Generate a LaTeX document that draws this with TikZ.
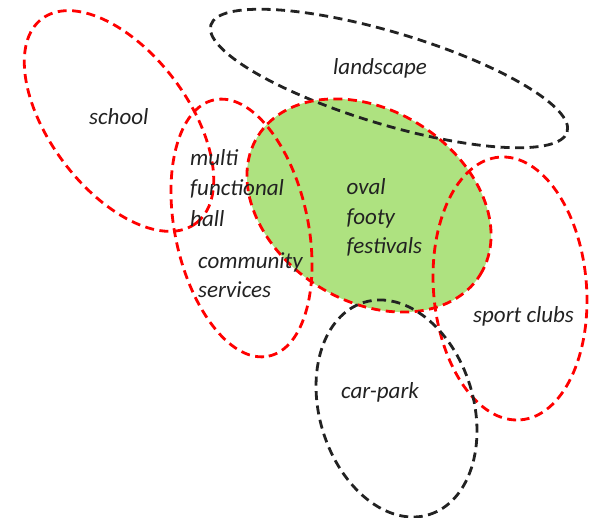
\documentclass[tikz,border=0pt]{standalone}
\usepackage{fontspec}
\setmainfont{Carlito}
\usepackage{tikz}
\definecolor{ovalgreen}{RGB}{174,226,128}
\definecolor{darkline}{RGB}{34,34,34}

\begin{document}
\begin{tikzpicture}[x=1pt, y=1pt,
  zone/.style={line width=2.8pt, dash pattern=on 9pt off 5.5pt},
  redzone/.style={zone, draw=red},
  darkzone/.style={zone, draw=darkline},
  lbl/.style={font=\fontsize{23}{29.5}\selectfont\itshape, text=darkline,
              inner sep=0pt, anchor=base west, align=left}
]
  \useasboundingbox (0,0) rectangle (602,518);

  % green fill first, outlines over it
  \fill[ovalgreen] (369,312.5) ellipse [x radius=131pt, y radius=95.4pt, rotate=-32];

  \draw[redzone] (119,397) ellipse [x radius=128pt, y radius=69pt, rotate=-53];
  \draw[redzone] (241.5,290) ellipse [x radius=131pt, y radius=66.5pt, rotate=-78];
  \draw[darkzone] (389,439.5) ellipse [x radius=186pt, y radius=46pt, rotate=-16.7];
  \draw[redzone] (369,312.5) ellipse [x radius=131pt, y radius=95.4pt, rotate=-32];
  \draw[redzone] (510,229.5) ellipse [x radius=131.8pt, y radius=76.5pt, rotate=-85.4];
  \draw[darkzone] (396.5,109.5) ellipse [x radius=111pt, y radius=77pt, rotate=-73];

  % labels (base = last line)
  \node[lbl] (school) at (89,393) {school};
  \node[lbl] (landscape) at (333,443.5) {landscape};
  \node[lbl, font=\fontsize{23}{30.5}\selectfont\itshape] (hall) at (190,291.5) {multi\\functional\\hall};
  \node[lbl] (oval) at (346.5,264) {oval\\footy\\festivals};
  \node[lbl] (community) at (198,220) {community\\services};
  \node[lbl] (clubs) at (473,195) {sport clubs};
  \node[lbl] (carpark) at (341,119.5) {car-park};
\end{tikzpicture}
\end{document}
